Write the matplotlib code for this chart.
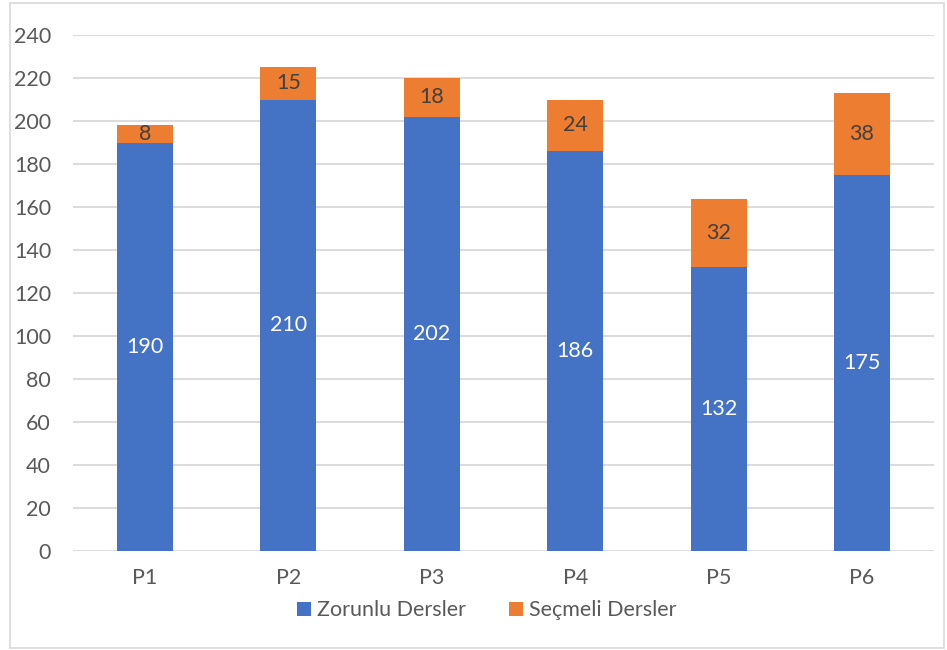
import matplotlib.pyplot as plt
from matplotlib.patches import Rectangle

plt.rcParams['font.family'] = ['Lato', 'DejaVu Sans']

categories = ["P1", "P2", "P3", "P4", "P5", "P6"]
zorunlu = [190, 210, 202, 186, 132, 175]
secmeli = [8, 15, 18, 24, 32, 38]

blue = "#4472C4"
orange = "#ED7D31"
grey_text = "#595959"
fs = 15.5

fig = plt.figure(figsize=(9.47, 6.5), dpi=100)
ax = fig.add_axes([0.0774, 0.152, 0.9086, 0.794])

x = range(len(categories))
b1 = ax.bar(x, zorunlu, width=0.39, color=blue, label="Zorunlu Dersler", zorder=3)
b2 = ax.bar(x, secmeli, width=0.39, bottom=zorunlu, color=orange,
            label="Seçmeli Dersler", zorder=3)

ax.bar_label(b1, labels=[str(v) for v in zorunlu], label_type="center",
             color="white", fontsize=fs)
ax.bar_label(b2, labels=[str(v) for v in secmeli], label_type="center",
             color="#404040", fontsize=fs)

ax.set_xlim(-0.5, len(categories) - 0.5)
ax.set_ylim(0, 240)
ax.set_yticks(range(0, 241, 20))
ax.set_xticks(list(x))
ax.set_xticklabels(categories)
ax.tick_params(axis="both", length=0, labelsize=fs, colors=grey_text)
ax.tick_params(axis="y", pad=16)
ax.tick_params(axis="x", pad=12)

ax.grid(axis="y", color="#d9d9d9", linewidth=1.3, zorder=0)
for s in ax.spines.values():
    s.set_visible(False)

fig.legend(loc="center", bbox_to_anchor=(0.514, 0.061), ncol=2, frameon=False,
           fontsize=fs, labelcolor=grey_text, handlelength=0.65, handleheight=0.65,
           handletextpad=0.3, columnspacing=2.0)

# light frame around the chart area
fig.patches.append(Rectangle((10 / 947, 2 / 650), 934 / 947, 645 / 650,
                             transform=fig.transFigure, fill=False,
                             edgecolor="#d9d9d9", linewidth=1.2))

fig.savefig("out.png", dpi=100)
